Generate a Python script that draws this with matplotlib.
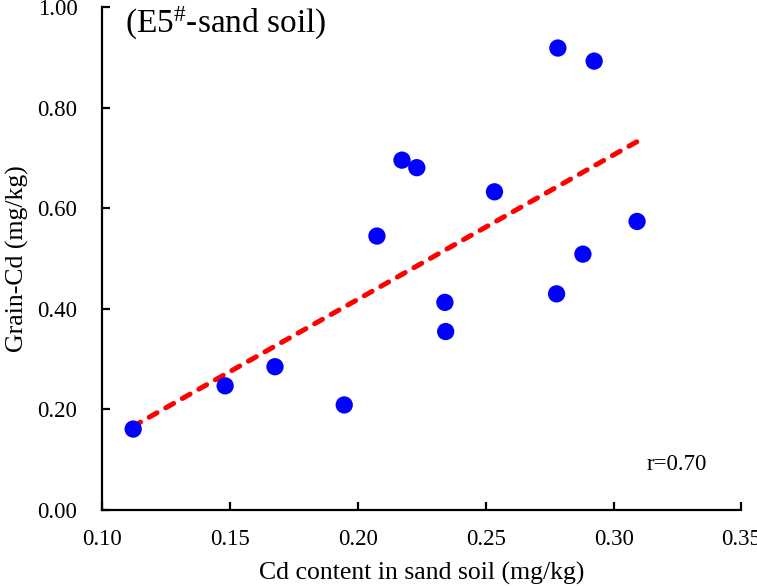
import matplotlib
matplotlib.use("Agg")
import matplotlib.pyplot as plt
import numpy as np

# Cd in sand soil (mg/kg) vs grain Cd (mg/kg)
soil_cd = [0.112, 0.148, 0.1675, 0.1946, 0.2074, 0.2172, 0.2230, 0.2340,
           0.2343, 0.2534, 0.2777, 0.2782, 0.2880, 0.2924, 0.3092]
grain_cd = [0.161, 0.247, 0.285, 0.209, 0.545, 0.696, 0.681, 0.413,
            0.355, 0.633, 0.430, 0.919, 0.509, 0.893, 0.574]

# regression line ends as drawn
fit_x = [0.1118, 0.3096]
fit_y = [0.166, 0.734]

x_ticks = [0.10, 0.15, 0.20, 0.25, 0.30, 0.35]
y_ticks = [0.00, 0.20, 0.40, 0.60, 0.80, 1.00]

plt.rcParams["font.family"] = ["Liberation Serif", "DejaVu Serif"]
plt.rcParams["mathtext.fontset"] = "custom"
plt.rcParams["mathtext.rm"] = "Liberation Serif"
plt.rcParams["mathtext.it"] = "Liberation Serif:italic"

fig = plt.figure(figsize=(7.57, 5.86), dpi=100)
ax = fig.add_axes([0.1354, 0.1297, 0.8439, 0.8578])

ax.plot(fit_x, fit_y, color="#ff0000", lw=3.6, linestyle=(0, (1.8, 2.0)),
        dash_capstyle="round", zorder=2)
ax.scatter(soil_cd, grain_cd, s=155, color="#0000ff", edgecolors="none", zorder=3)

ax.set_xlim(0.10, 0.35)
ax.set_ylim(0.0, 1.0)
ax.set_xticks(x_ticks)
ax.set_yticks(y_ticks)
ax.set_xticklabels([f"{v:.2f}" for v in x_ticks])
ax.set_yticklabels([f"{v:.2f}" for v in y_ticks])

for side in ("top", "right"):
    ax.spines[side].set_visible(False)
for side in ("left", "bottom"):
    ax.spines[side].set_linewidth(1.6)
ax.tick_params(direction="in", length=5.5, width=1.6, labelsize=16.5)
ax.tick_params(axis="y", pad=18)
ax.tick_params(axis="x", pad=14)

ax.set_xlabel("Cd content in sand soil (mg/kg)", fontsize=18.5, labelpad=8)
ax.set_ylabel("Grain-Cd (mg/kg)", fontsize=18.5, labelpad=6)

ax.text(0.035, 1.005, r"(E5$^{\#}$-sand soil)", transform=ax.transAxes,
        fontsize=24, ha="left", va="top")
ax.text(0.313, 0.09, "r=0.70", fontsize=16.5, ha="left", va="center")

fig.savefig("out.png", dpi=100)
